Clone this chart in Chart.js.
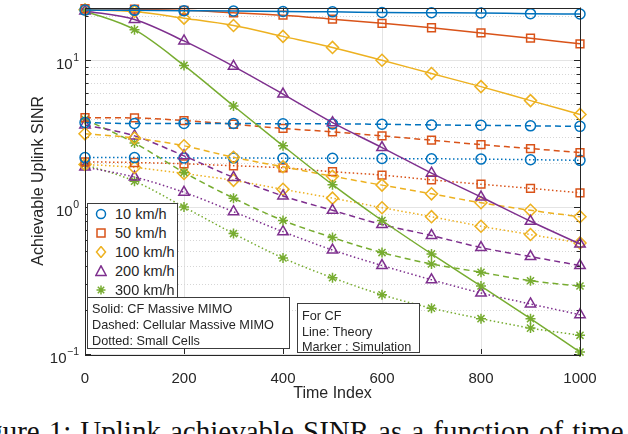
<!DOCTYPE html>
<html>
<head>
<meta charset="utf-8">
<script src="https://cdn.jsdelivr.net/npm/chart.js@4"></script>
<style>
  body { margin: 0; background: #fff; }
  #wrap { position: relative; width: 628px; height: 434px; overflow: hidden; background: #fff;
          font-family: 'Liberation Sans', Arial, Helvetica, sans-serif; color: #262626; }
  #plot { position: absolute; left: 0; top: 0; width: 628px; height: 405px; }
  .box { position: absolute; background: #fff; border: 1px solid #3c3c3c; box-sizing: border-box; }
  .row { position: absolute; left: 0; white-space: nowrap; }
  #legend .row { font-size: 14.5px; height: 19px; line-height: 19px; }
  #legend svg { position: absolute; left: 7px; top: 3px; }
  #legend span { position: absolute; left: 27px; }
  .note .row { left: 4px; font-size: 12.7px; line-height: 16px; }
  #caption { position: absolute; left: -36px; top: 417px; white-space: nowrap;
             font-family: 'Liberation Serif', 'Times New Roman', serif; font-size: 29px;
             line-height: 29px; word-spacing: 1.8px; color: #111; }
</style>
</head>
<body>
<div id="wrap">
  <div id="plot"><canvas id="chart"></canvas></div>
  <div class="box" id="legend" style="left:87px;top:203px;width:91px;height:95px"></div>
  <div class="box note" style="left:87px;top:297px;width:203px;height:52px">
    <div class="row" style="top:3px">Solid: CF Massive MIMO</div>
    <div class="row" style="top:19px">Dashed: Cellular Massive MIMO</div>
    <div class="row" style="top:35px">Dotted: Small Cells</div>
  </div>
  <div class="box note" style="left:297px;top:303px;width:123px;height:50px">
    <div class="row" style="top:4px">For CF</div>
    <div class="row" style="top:20px">Line: Theory</div>
    <div class="row" style="top:35px">Marker : Simulation</div>
  </div>
  <div id="caption">Figure 1: Uplink achievable SINR as a function of time</div>
</div>
<script>
// time axis and series
const timeIndex = [0, 100, 200, 300, 400, 500, 600, 700, 800, 900, 1000];
const speeds = ['10 km/h', '50 km/h', '100 km/h', '200 km/h', '300 km/h'];

// CF Massive MIMO (solid)
const cf10  = [21.9, 21.8, 21.7, 21.6, 21.4, 21.3, 21.1, 21.0, 20.9, 20.7, 20.6];
const cf50  = [22.4, 22.2, 21.8, 21.0, 20.2, 19.0, 17.8, 16.6, 15.3, 14.1, 12.9];
const cf100 = [22.0, 21.4, 19.3, 17.2, 14.5, 12.2, 9.97, 8.1, 6.6, 5.3, 4.27];
const cf200 = [21.6, 18.9, 13.5, 9.07, 5.87, 3.75, 2.54, 1.70, 1.17, 0.80, 0.56];
const cf300 = [21.6, 16.1, 9.2, 4.88, 2.61, 1.42, 0.81, 0.48, 0.29, 0.174, 0.103];

// Cellular Massive MIMO (dashed)
const cell10  = [3.76, 3.70, 3.71, 3.70, 3.69, 3.68, 3.66, 3.62, 3.60, 3.57, 3.54];
const cell50  = [4.06, 4.04, 3.88, 3.66, 3.43, 3.25, 3.05, 2.85, 2.66, 2.50, 2.35];
const cell100 = [3.15, 2.95, 2.61, 2.18, 1.88, 1.62, 1.41, 1.23, 1.07, 0.95, 0.86];
const cell200 = [3.62, 3.05, 2.23, 1.59, 1.19, 0.95, 0.76, 0.64, 0.53, 0.46, 0.40];
const cell300 = [3.95, 2.73, 1.72, 1.15, 0.81, 0.62, 0.49, 0.41, 0.36, 0.315, 0.29];

// Small cells (dotted)
const sc10  = [2.17, 2.17, 2.16, 2.16, 2.15, 2.15, 2.14, 2.13, 2.12, 2.10, 2.08];
const sc50  = [2.03, 2.01, 1.97, 1.91, 1.85, 1.74, 1.65, 1.53, 1.43, 1.34, 1.25];
const sc100 = [1.95, 1.86, 1.69, 1.52, 1.32, 1.15, 0.99, 0.86, 0.74, 0.65, 0.57];
const sc200 = [1.87, 1.60, 1.26, 0.93, 0.68, 0.51, 0.40, 0.32, 0.26, 0.219, 0.185];
const sc300 = [1.95, 1.50, 1.00, 0.66, 0.45, 0.33, 0.253, 0.205, 0.174, 0.150, 0.134];

const xTicks = [0, 200, 400, 600, 800, 1000];
const yLabels = [0.1, 1, 10];
const yMin = 0.1, yMax = 22.8;

const colors = ['#0072BD', '#D95319', '#EDB120', '#7E2F8E', '#77AC30'];
const markers = ['circle', 'rect', 'rectRot', 'triangle', 'star'];
const radii = [5, 5.5, 6, 6, 5];

const groups = [
  { name: 'CF', dash: [], series: [cf10, cf50, cf100, cf200, cf300] },
  { name: 'Cellular', dash: [6, 4], series: [cell10, cell50, cell100, cell200, cell300] },
  { name: 'Small Cells', dash: [1.5, 2.5], series: [sc10, sc50, sc100, sc200, sc300] }
];

const datasets = [];
groups.forEach(g => {
  g.series.forEach((vals, i) => {
    datasets.push({
      label: g.name + ' ' + speeds[i],
      data: vals.map((v, k) => ({ x: timeIndex[k], y: v })),
      borderColor: colors[i],
      borderWidth: 1.5,
      borderDash: g.dash,
      pointStyle: markers[i],
      pointRadius: radii[i],
      pointBorderColor: colors[i],
      pointBorderWidth: 1.5,
      pointBackgroundColor: 'rgba(0,0,0,0)',
      cubicInterpolationMode: 'monotone',
      clip: false
    });
  });
});

// MATLAB-like axes: grid, inward ticks, box, 10^n labels
const frame = {
  id: 'frame',
  beforeDatasetsDraw(chart) {
    const { ctx, chartArea: a, scales: { x, y } } = chart;
    ctx.save();
    ctx.lineWidth = 1;
    ctx.strokeStyle = '#e4e4e4';
    xTicks.forEach(t => {
      const px = Math.round(x.getPixelForValue(t)) + 0.5;
      ctx.beginPath(); ctx.moveTo(px, a.top); ctx.lineTo(px, a.bottom); ctx.stroke();
    });
    const yGrid = [];
    [0.1, 1, 10].forEach(d => {
      for (let k = 1; k <= 9; k++) {
        const v = +(k * d).toPrecision(3);
        if (v <= yMax) yGrid.push({ v, major: k === 1 });
      }
    });
    yGrid.forEach(g => {
      const py = Math.round(y.getPixelForValue(g.v)) + 0.5;
      ctx.setLineDash(g.major ? [] : [1, 2]);
      ctx.strokeStyle = g.major ? '#e4e4e4' : '#d6d6d6';
      ctx.beginPath(); ctx.moveTo(a.left, py); ctx.lineTo(a.right, py); ctx.stroke();
    });
    ctx.setLineDash([]);
    ctx.strokeStyle = '#262626';
    yGrid.forEach(g => {
      const py = Math.round(y.getPixelForValue(g.v)) + 0.5;
      const len = g.major ? 6 : 3.5;
      ctx.beginPath();
      ctx.moveTo(a.left, py); ctx.lineTo(a.left + len, py);
      ctx.moveTo(a.right, py); ctx.lineTo(a.right - len, py);
      ctx.stroke();
    });
    xTicks.forEach(t => {
      const px = Math.round(x.getPixelForValue(t)) + 0.5;
      ctx.beginPath();
      ctx.moveTo(px, a.bottom); ctx.lineTo(px, a.bottom - 5);
      ctx.moveTo(px, a.top); ctx.lineTo(px, a.top + 5);
      ctx.stroke();
    });
    ctx.restore();
  },
  afterDraw(chart) {
    const { ctx, chartArea: a, scales: { y } } = chart;
    ctx.save();
    ctx.strokeStyle = '#262626';
    ctx.lineWidth = 1;
    ctx.strokeRect(Math.round(a.left) + 0.5, Math.round(a.top) + 0.5,
                   Math.round(a.right - a.left), Math.round(a.bottom - a.top));
    ctx.fillStyle = '#262626';
    ctx.textBaseline = 'middle';
    yLabels.forEach(v => {
      const py = y.getPixelForValue(v);
      const exp = String(Math.round(Math.log10(v))).replace('-', '\u2212');
      ctx.font = '10.5px "Liberation Sans", Arial, sans-serif';
      const ew = ctx.measureText(exp).width;
      ctx.font = '15px "Liberation Sans", Arial, sans-serif';
      const bw = ctx.measureText('10').width;
      const right = a.left - 6;
      ctx.textAlign = 'left';
      ctx.fillText('10', right - ew - bw - 0.5, py + 5);
      ctx.font = '10.5px "Liberation Sans", Arial, sans-serif';
      ctx.fillText(exp, right - ew, py - 2);
    });
    ctx.restore();
  }
};

new Chart(document.getElementById('chart'), {
  type: 'line',
  data: { datasets },
  plugins: [frame],
  options: {
    responsive: true,
    maintainAspectRatio: false,
    animation: false,
    layout: { padding: { top: 4, right: 48, left: 0, bottom: 0 } },
    plugins: { legend: { display: false }, tooltip: { enabled: false } },
    scales: {
      x: {
        type: 'linear', min: 0, max: 1000,
        grid: { display: false },
        border: { display: false },
        ticks: { stepSize: 200, padding: 8, color: '#262626', callback: v => String(v),
                 font: { family: "'Liberation Sans', Arial, sans-serif", size: 15 } },
        title: { display: true, text: 'Time Index', color: '#262626', padding: { top: 0, bottom: 2 },
                 font: { family: "'Liberation Sans', Arial, sans-serif", size: 16 } },
        afterFit: s => { s.height = 51; }
      },
      y: {
        type: 'logarithmic', min: yMin, max: yMax,
        grid: { display: false },
        border: { display: false },
        ticks: { display: false },
        title: { display: true, text: 'Achievable Uplink SINR', color: '#262626', padding: { top: 29, bottom: 0 },
                 font: { family: "'Liberation Sans', Arial, sans-serif", size: 16 } },
        afterFit: s => { s.width = 85; }
      }
    }
  }
});

// legend: marker symbol per speed
const svgMarker = (i) => {
  const c = colors[i];
  const st = `fill="none" stroke="${c}" stroke-width="1.5"`;
  const shapes = [
    `<circle cx="6" cy="6" r="4.5" ${st}/>`,
    `<rect x="2" y="2" width="8" height="8" ${st}/>`,
    `<polygon points="6,0.5 10.5,6 6,11.5 1.5,6" ${st}/>`,
    `<polygon points="6,0.8 11.2,10.5 0.8,10.5" ${st}/>`,
    `<path d="M6 1.5V10.5M1.5 6H10.5M2.8 2.8L9.2 9.2M9.2 2.8L2.8 9.2" ${st}/>`
  ];
  return `<svg width="12" height="12" viewBox="0 0 12 12">${shapes[i]}</svg>`;
};
const legend = document.getElementById('legend');
speeds.forEach((s, i) => {
  const row = document.createElement('div');
  row.className = 'row';
  row.style.top = (1 + i * 19) + 'px';
  row.style.width = '100%';
  row.innerHTML = svgMarker(i) + '<span>' + s + '</span>';
  legend.appendChild(row);
});
</script>
</body>
</html>
